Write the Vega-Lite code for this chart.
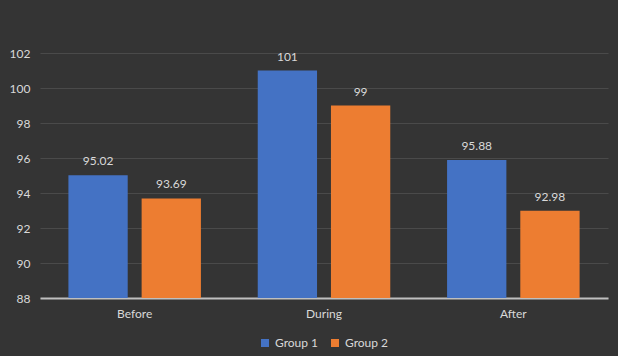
{
  "$schema": "https://vega.github.io/schema/vega-lite/v6.json",
  "width": 568,
  "height": 245,
  "autosize": {"type": "none"},
  "padding": {"left": 40, "top": 53, "right": 10, "bottom": 58},
  "background": "#343434",
  "config": {"view": {"stroke": null}, "font": "Lato"},
  "data": {"values": [
    {"period": "Before", "group": "Group 1", "value": 95.02},
    {"period": "Before", "group": "Group 2", "value": 93.69},
    {"period": "During", "group": "Group 1", "value": 101},
    {"period": "During", "group": "Group 2", "value": 99},
    {"period": "After", "group": "Group 1", "value": 95.88},
    {"period": "After", "group": "Group 2", "value": 92.98}
  ]},
  "encoding": {
    "x": {
      "field": "period", "type": "nominal", "sort": ["Before", "During", "After"],
      "scale": {"paddingInner": 0.3, "paddingOuter": 0.15},
      "axis": {"title": null, "labelAngle": 0, "ticks": false, "domain": true, "domainColor": "#bfbfbf", "domainWidth": 2, "labelColor": "#d9d9d9", "labelFontSize": 12, "labelPadding": 10, "grid": false}
    },
    "xOffset": {"field": "group", "type": "nominal", "scale": {"domain": ["Group 1", "Group 2"], "paddingInner": 0.19, "paddingOuter": 0}},
    "y": {
      "field": "value", "type": "quantitative",
      "scale": {"domain": [88, 102], "zero": false, "nice": false},
      "axis": {"title": null, "values": [88, 90, 92, 94, 96, 98, 100, 102], "domain": false, "ticks": false, "grid": true, "gridColor": "#4a4a4a", "gridWidth": 1, "labelColor": "#d9d9d9", "labelFontSize": 12, "labelPadding": 10}
    }
  },
  "layer": [
    {
      "mark": {"type": "bar", "clip": true},
      "encoding": {
        "color": {
          "field": "group", "type": "nominal",
          "scale": {"domain": ["Group 1", "Group 2"], "range": ["#4472c4", "#ed7d31"]},
          "legend": {"title": null, "orient": "none", "legendX": 219, "legendY": 284, "direction": "horizontal", "symbolType": "square", "symbolSize": 64, "symbolStrokeWidth": 0, "labelColor": "#d9d9d9", "labelFontSize": 12, "columnPadding": 10, "labelOffset": 4}
        }
      }
    },
    {
      "mark": {"type": "text", "dy": -14, "baseline": "middle", "fontSize": 12, "color": "#d9d9d9"},
      "encoding": {"text": {"field": "value", "type": "quantitative"}}
    }
  ]
}
